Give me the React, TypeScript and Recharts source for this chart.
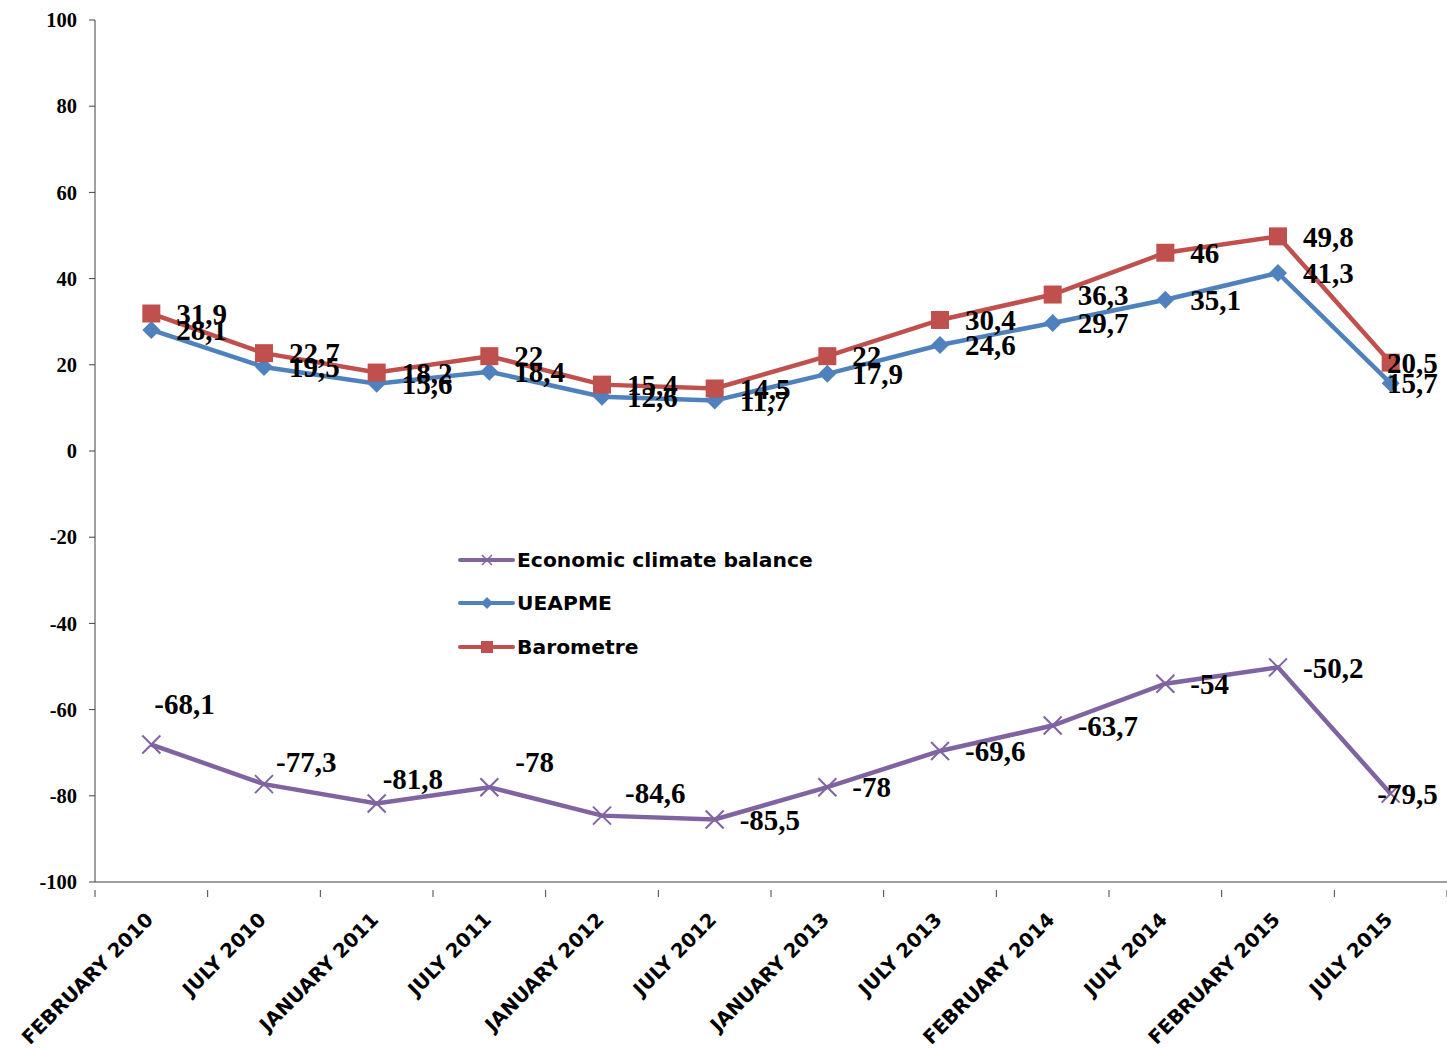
import React from 'react';
import { LineChart, Line, XAxis, YAxis, Legend, LabelList } from 'recharts';

const periods = [
  'FEBRUARY 2010', 'JULY 2010', 'JANUARY 2011', 'JULY 2011', 'JANUARY 2012', 'JULY 2012',
  'JANUARY 2013', 'JULY 2013', 'FEBRUARY 2014', 'JULY 2014', 'FEBRUARY 2015', 'JULY 2015',
];
const economicClimate = [-68.1, -77.3, -81.8, -78, -84.6, -85.5, -78, -69.6, -63.7, -54, -50.2, -79.5];
const ueapme = [28.1, 19.5, 15.6, 18.4, 12.6, 11.7, 17.9, 24.6, 29.7, 35.1, 41.3, 15.7];
const barometre = [31.9, 22.7, 18.2, 22, 15.4, 14.5, 22, 30.4, 36.3, 46, 49.8, 20.5];
const yTicks = [-100, -80, -60, -40, -20, 0, 20, 40, 60, 80, 100];

const PURPLE = '#8064A2';
const BLUE = '#4F81BD';
const RED = '#C0504D';

const data = periods.map((p, i) => ({
  idx: i,
  period: p,
  econ: economicClimate[i],
  ueapme: ueapme[i],
  barometre: barometre[i],
}));

// ticks at band edges (x.5) get a tick line, integer ticks get the label
const xTicks: number[] = [];
for (let i = -0.5; i <= periods.length - 0.5; i += 0.5) xTicks.push(i);

const serif = '"Liberation Serif", "Times New Roman", serif';
const sans = '"DejaVu Sans", Verdana, sans-serif';

const fmt = (v: number) => String(v).replace('.', ',');

const XTick = (props: any) => {
  const { x, y, payload } = props;
  const v = payload.value;
  if (!Number.isInteger(v)) {
    return <line x1={x} y1={y} x2={x} y2={y + 7} stroke="#404040" strokeWidth={1} />;
  }
  const ax = x + 3;
  const ay = y + 31;
  return (
    <text
      x={ax}
      y={ay}
      transform={`rotate(-45 ${ax} ${ay})`}
      textAnchor="end"
      fontFamily={sans}
      fontWeight="bold"
      fontSize={19.5}
      fill="#000"
    >
      {periods[v]}
    </text>
  );
};

const Square = (props: any) => {
  const { cx, cy, key } = props;
  return <rect key={key} x={cx - 9} y={cy - 9} width={18} height={18} fill={RED} />;
};
const Diamond = (props: any) => {
  const { cx, cy, key } = props;
  return <polygon key={key} points={`${cx},${cy - 9} ${cx + 9},${cy} ${cx},${cy + 9} ${cx - 9},${cy}`} fill={BLUE} />;
};
const Cross = (props: any) => {
  const { cx, cy, key } = props;
  return (
    <g key={key} stroke={PURPLE} strokeWidth={2}>
      <line x1={cx - 9} y1={cy - 9} x2={cx + 9} y2={cy + 9} />
      <line x1={cx - 9} y1={cy + 9} x2={cx + 9} y2={cy - 9} />
    </g>
  );
};

// label shifts for the lower series, where some labels sit above the line
const econShiftX = [-22, -13, -19, 1, -2, 0, 0, 0, 0, 0, 0, 0];
const econShiftY = [-41, -22, -25, -25, -23, 0, 0, 0, 0, 0, 0, 0];

const makeLabel = (shiftX?: number[], shiftY?: number[]) => (props: any) => {
  const { x, y, value, index } = props;
  const last = index === periods.length - 1;
  const dx = shiftX ? shiftX[index] : 0;
  const dy = shiftY ? shiftY[index] : 0;
  return (
    <text
      x={last ? x + 47 : x + 25 + dx}
      y={y + dy}
      dy="0.35em"
      textAnchor={last ? 'end' : 'start'}
      fontFamily={serif}
      fontWeight="bold"
      fontSize={29}
      fill="#000"
    >
      {fmt(value)}
    </text>
  );
};

const legendRows = [
  { name: 'Economic climate balance', color: PURPLE },
  { name: 'UEAPME', color: BLUE },
  { name: 'Barometre', color: RED },
];

const LegendBox = () => (
  <div>
    {legendRows.map(({ name, color }) => (
      <div key={name} style={{ display: 'flex', alignItems: 'center', height: 43.5 }}>
        <svg width={60} height={16}>
          <line x1={3} y1={8} x2={56} y2={8} stroke={color} strokeWidth={4} strokeLinecap="round" />
          {name === 'Economic climate balance' ? (
            <g stroke={color} strokeWidth={1.5}>
              <line x1={25} y1={3} x2={35} y2={13} />
              <line x1={25} y1={13} x2={35} y2={3} />
            </g>
          ) : name === 'UEAPME' ? (
            <polygon points="30,2 36,8 30,14 24,8" fill={color} />
          ) : (
            <rect x={24} y={2} width={12} height={12} fill={color} />
          )}
        </svg>
        <span style={{ fontFamily: sans, fontWeight: 'bold', fontSize: 20.3, color: '#000' }}>{name}</span>
      </div>
    ))}
  </div>
);

export default function App() {
  return (
    <div style={{ position: 'absolute', left: 0, top: 0, width: 1447, height: 1051, background: '#fff' }}>
      <LineChart width={1447} height={1051} data={data} margin={{ top: 20, right: 0, left: 0, bottom: 0 }}>
        <XAxis
          dataKey="idx"
          type="number"
          domain={[-0.5, periods.length - 0.5]}
          ticks={xTicks}
          interval={0}
          tick={<XTick />}
          tickLine={false}
          axisLine={{ stroke: '#404040', strokeWidth: 1 }}
          height={169}
          allowDecimals
        />
        <YAxis
          type="number"
          domain={[-100, 100]}
          ticks={yTicks}
          interval={0}
          width={95}
          tickSize={6}
          tickMargin={12}
          tickLine={{ stroke: '#404040' }}
          axisLine={{ stroke: '#404040', strokeWidth: 1 }}
          tick={{ fontFamily: serif, fontWeight: 'bold', fontSize: 20.5, fill: '#000' }}
        />
        {/* vertical + center + middle keeps the legend from reserving plot space */}
        <Legend
          content={<LegendBox />}
          layout="vertical"
          verticalAlign="middle"
          align="center"
          wrapperStyle={{ left: 457, top: 538, width: 420 }}
        />
        <Line
          dataKey="econ"
          name="Economic climate balance"
          stroke={PURPLE}
          strokeWidth={4.5}
          dot={<Cross />}
          isAnimationActive={false}
        >
          <LabelList dataKey="econ" content={makeLabel(econShiftX, econShiftY)} />
        </Line>
        <Line
          dataKey="ueapme"
          name="UEAPME"
          stroke={BLUE}
          strokeWidth={4.5}
          dot={<Diamond />}
          isAnimationActive={false}
        >
          <LabelList dataKey="ueapme" content={makeLabel()} />
        </Line>
        <Line
          dataKey="barometre"
          name="Barometre"
          stroke={RED}
          strokeWidth={4.5}
          dot={<Square />}
          isAnimationActive={false}
        >
          <LabelList dataKey="barometre" content={makeLabel()} />
        </Line>
      </LineChart>
    </div>
  );
}
